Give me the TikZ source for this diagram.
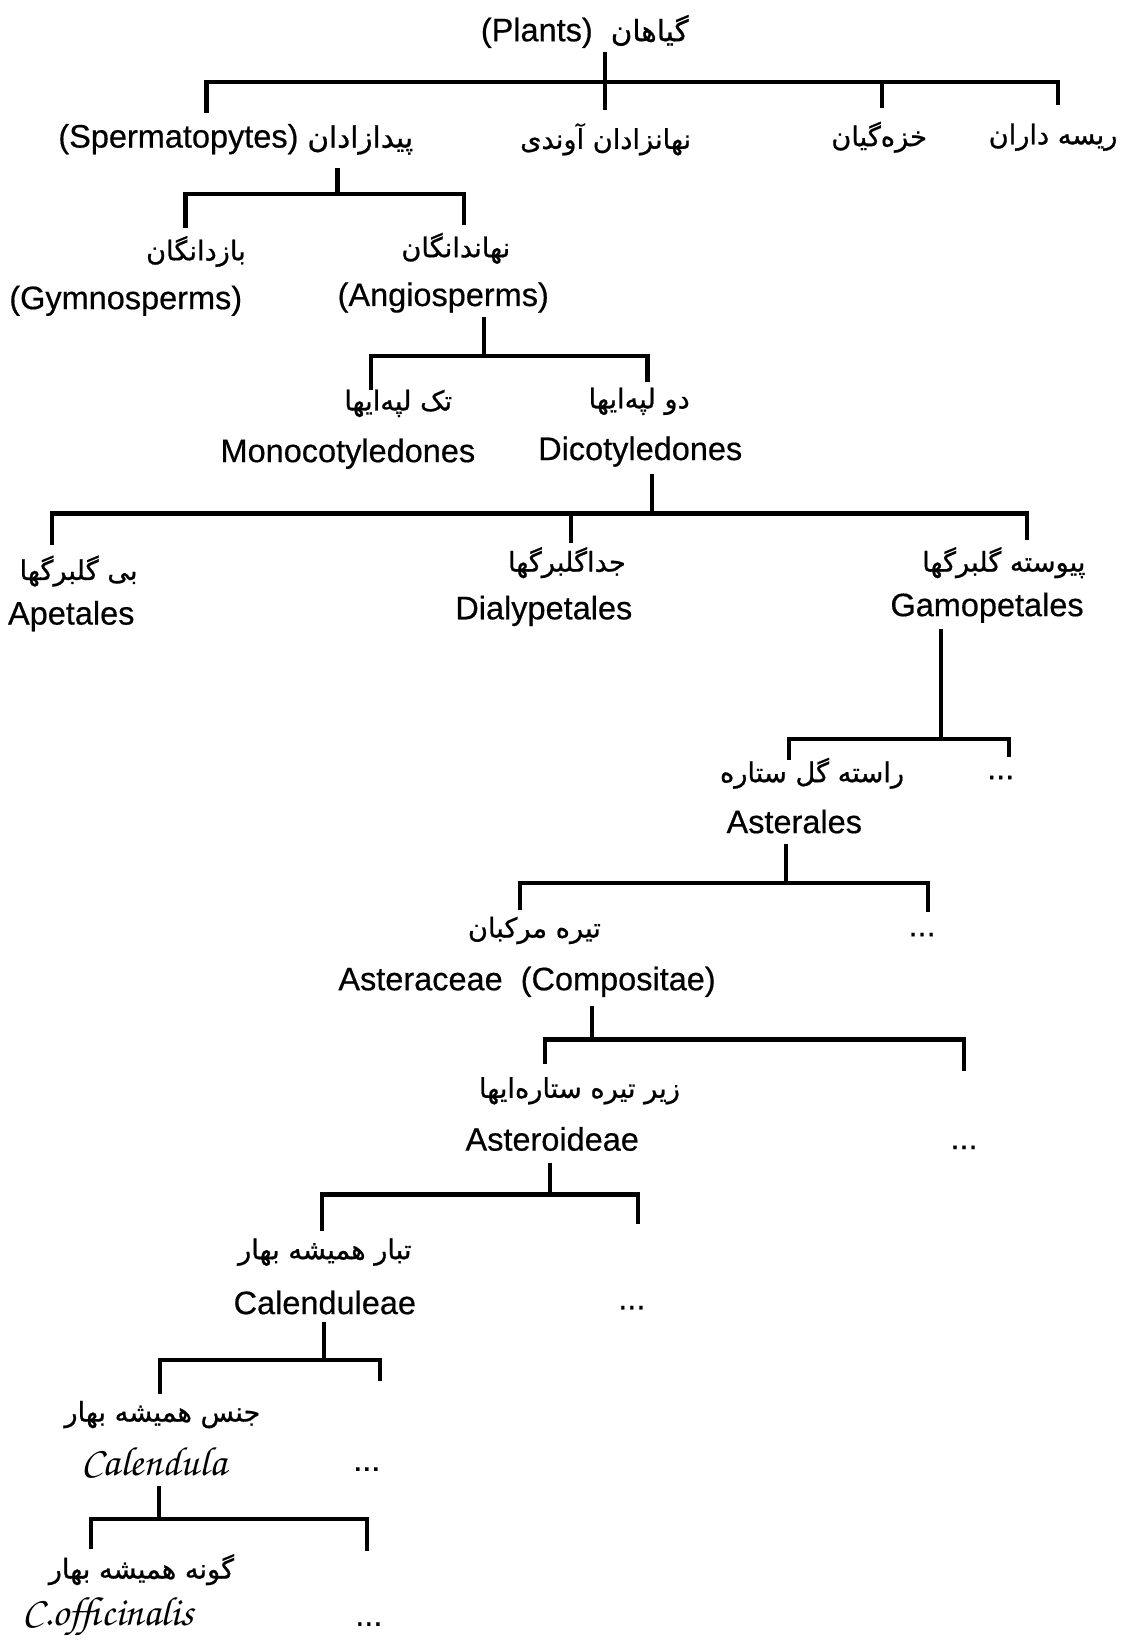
\documentclass[tikz,border=0pt]{standalone}
\usepackage[T1]{fontenc}
\usepackage{fontspec}
\setmainfont{Liberation Sans}
\newfontfamily\latfont[FakeBold=0.5]{Liberation Sans}
\newfontfamily\persfont[Script=Arabic,FakeBold=0.8]{DejaVu Sans}
\TeXXeTstate=1
\newcommand{\pers}[1]{{\persfont\beginR #1\endR}}

\begin{document}
\begin{tikzpicture}[x=.5pt,y=-.5pt,
    lat/.style={font=\fontsize{15.5}{18}\latfont,inner sep=1pt},
    per/.style={font=\fontsize{13}{16}\persfont,inner sep=1pt},
    sci/.style={font=\fontsize{19.5}{22}\usefont{T1}{pzc}{mb}{it},inner sep=1pt},
    bar/.style={line width=2pt}]
      \useasboundingbox (0,0) rectangle (1070,1568);

      \node[lat] (plants) at (558,30) {(Plants)\ \ {\fontsize{14}{16}\persfont\beginR گیاهان\endR}};
      \node[lat] (sperm) at (225,133) {(Spermatopytes) {\fontsize{14}{16}\persfont\beginR پیدازادان\endR}};
      \node[per] (vasc) at (578,133) {\beginR نهانزادان آوندی\endR};
      \node[per] (moss) at (839,131) {\beginR خزه‌گیان\endR};
      \node[per] (algae) at (1005,131) {\beginR ریسه داران\endR};
      \coordinate (s1) at (577,50);  \coordinate (b1) at (577,78);
      \coordinate (t11) at (197,108); \coordinate (t12) at (577,105);
      \coordinate (t13) at (842,103); \coordinate (t14) at (1010,100);
      \draw[bar] (s1) -- (b1);
      \draw[bar] (t11) |- (b1) -| (t14);
      \draw[bar] (t12 |- b1) -- (t12);
      \draw[bar] (t13 |- b1) -- (t13);

      \node[per] (gym) at (187,240) {\beginR بازدانگان\endR};
      \node[lat] (gymen) at (120,287) {(Gymnosperms)};
      \node[per] (ang) at (435,237) {\beginR نهاندانگان\endR};
      \node[lat] (angen) at (423,284) {(Angiosperms)};
      \coordinate (s2) at (322,160);  \coordinate (b2) at (322,185);
      \coordinate (t21) at (177,218); \coordinate (t22) at (443,215);
      \draw[bar] (s2) -- (b2);
      \draw[bar] (t21) |- (b2) -| (t22);

      \node[per] (mono) at (380,385) {\beginR تک لپه‌ایها\endR};
      \node[lat] (monoen) at (332,433) {Monocotyledones};
      \node[per] (di) at (610,383) {\beginR دو لپه‌ایها\endR};
      \node[lat] (dien) at (611,431) {Dicotyledones};
      \coordinate (s3) at (462,303);  \coordinate (b3) at (462,340);
      \coordinate (t31) at (354,372); \coordinate (t32) at (618,365);
      \draw[bar] (s3) -- (b3);
      \draw[bar] (t31) |- (b3) -| (t32);

      \node[per] (ape) at (75,545) {\beginR بی گلبرگها\endR};
      \node[lat] (apeen) at (68,588) {Apetales};
      \node[per] (dial) at (541,537) {\beginR جداگلبرگها\endR};
      \node[lat] (dialen) at (519,583) {Dialypetales};
      \node[per] (gamo) at (958,537) {\beginR پیوسته گلبرگها\endR};
      \node[lat] (gamoen) at (942,580) {Gamopetales};
      \coordinate (s4) at (622,452);  \coordinate (b4) at (622,490);
      \coordinate (t41) at (50,520);  \coordinate (t42) at (545,518);
      \coordinate (t43) at (980,515);
      \draw[bar] (s4) -- (b4);
      \draw[bar] (t41) |- (b4) -| (t43);
      \draw[bar] (t42 |- b4) -- (t42);

      \node[per] (ast) at (775,738) {\beginR راسته گل ستاره\endR};
      \node[lat] (asten) at (758,784) {Asterales};
      \node[lat] (d5) at (955,742) {...};
      \coordinate (s5) at (898,600);  \coordinate (b5) at (898,705);
      \coordinate (t51) at (753,725); \coordinate (t52) at (963,722);
      \draw[bar] (s5) -- (b5);
      \draw[bar] (t51) |- (b5) -| (t52);

      \node[per] (comp) at (510,888) {\beginR تیره مرکبان\endR};
      \node[lat] (compen) at (503,937) {Asteraceae\ \ (Compositae)};
      \node[lat] (d6) at (880,892) {...};
      \coordinate (s6) at (750,805);  \coordinate (b6) at (750,843);
      \coordinate (t61) at (496,868); \coordinate (t62) at (886,870);
      \draw[bar] (s6) -- (b6);
      \draw[bar] (t61) |- (b6) -| (t62);

      \node[per] (astd) at (553,1041) {\beginR زیر تیره ستاره‌ایها\endR};
      \node[lat] (astden) at (527,1087) {Asteroideae};
      \node[lat] (d7) at (920,1095) {...};
      \coordinate (s7) at (565,960);  \coordinate (b7) at (565,992);
      \coordinate (t71) at (520,1015); \coordinate (t72) at (920,1022);
      \draw[bar] (s7) -- (b7);
      \draw[bar] (t71) |- (b7) -| (t72);

      \node[per] (tribe) at (310,1195) {\beginR تبار همیشه بهار\endR};
      \node[lat] (tribeen) at (310,1243) {Calenduleae};
      \node[lat] (d8) at (603,1248) {...};
      \coordinate (s8) at (525,1110);  \coordinate (b8) at (525,1140);
      \coordinate (t81) at (307,1175); \coordinate (t82) at (609,1168);
      \draw[bar] (s8) -- (b8);
      \draw[bar] (t81) |- (b8) -| (t82);

      \node[per] (genus) at (155,1350) {\beginR جنس همیشه بهار\endR};
      \node[sci] (genusen) at (147,1395) {Calendula};
      \node[lat] (d9) at (350,1402) {...};
      \coordinate (s9) at (309,1262);  \coordinate (b9) at (309,1298);
      \coordinate (t91) at (153,1330); \coordinate (t92) at (363,1318);
      \draw[bar] (s9) -- (b9);
      \draw[bar] (t91) |- (b9) -| (t92);

      \node[per] (spec) at (135,1498) {\beginR گونه همیشه بهار\endR};
      \node[sci] (specen) at (103,1543) {C.officinalis};
      \node[lat] (d10) at (352,1550) {...};
      \coordinate (s10) at (152,1418);  \coordinate (b10) at (152,1450);
      \coordinate (t101) at (87,1478); \coordinate (t102) at (350,1480);
      \draw[bar] (s10) -- (b10);
      \draw[bar] (t101) |- (b10) -| (t102);

    \end{tikzpicture}
\end{document}
